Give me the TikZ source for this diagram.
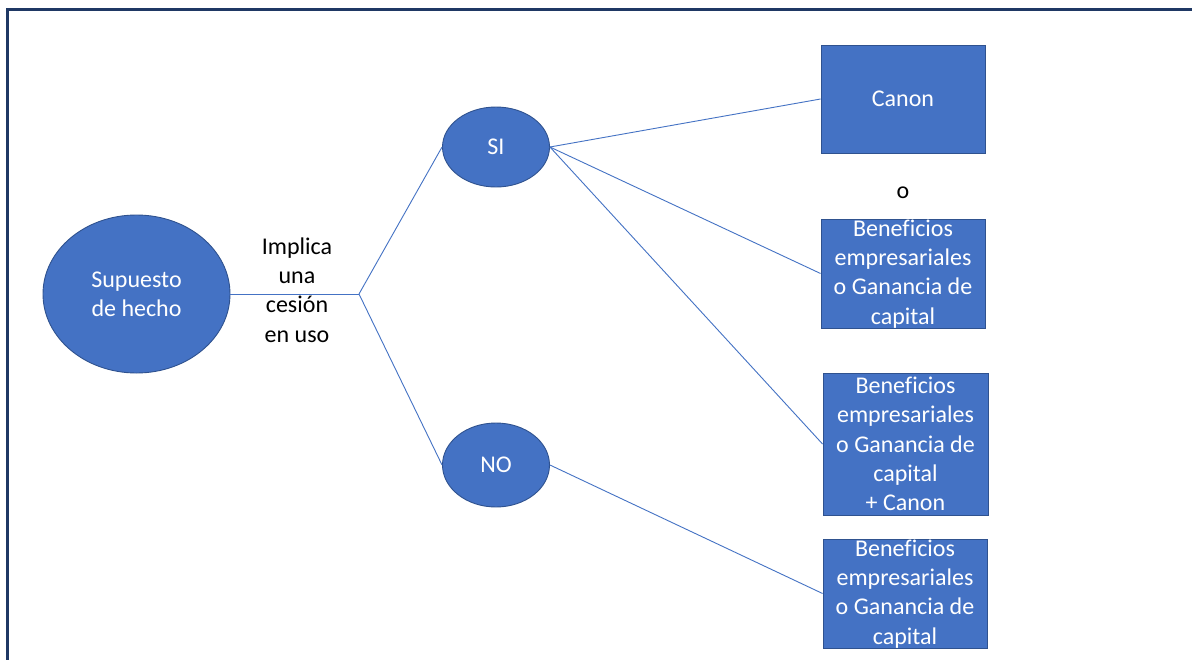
\documentclass[tikz,border=0pt]{standalone}
\usepackage{fontspec}
\setmainfont[Ligatures=NoCommon]{Carlito}
\usetikzlibrary{shapes.geometric}
\definecolor{accent}{HTML}{4472C4}
\definecolor{accentdark}{HTML}{2F528F}
\definecolor{framecol}{HTML}{1F3864}
\newcommand{\lowstack}[1]{\raisebox{-7pt}[0pt][0pt]{\begin{tabular}{@{}c@{}}#1\end{tabular}}}
\tikzset{
  x=1pt, y=-1pt,
  bubble/.style={ellipse, fill=accent, draw=accentdark, line width=0.9pt, inner sep=0pt, text=white, align=center, font=\fontsize{24}{29}\selectfont},
  panel/.style={rectangle, fill=accent, draw=accentdark, line width=0.9pt, inner sep=0pt, text=white, align=center, font=\fontsize{24}{29.3}\selectfont},
  link/.style={draw=accent, line width=0.9pt},
  plain/.style={text=black, align=center, font=\fontsize{24}{29.5}\selectfont}
}
\begin{document}
\begin{tikzpicture}
\useasboundingbox (0,0) rectangle (1192,659);
\fill[white] (0,0) rectangle (1192,659);
\draw[framecol, line width=3pt] (7.5,670) -- (7.5,9.5) -- (1200,9.5);

\node[bubble, minimum width=187pt, minimum height=158pt] (sup) at (136.5,294) {Supuesto\\de hecho};
\node[bubble, minimum width=107pt, minimum height=80pt] (si) at (496,147) {SI};
\node[bubble, minimum width=107pt, minimum height=84pt] (no) at (496,465) {NO};

\node[panel, minimum width=164pt, minimum height=108pt] (canon) at (903,99) {Canon};
\node[panel, minimum width=164pt, minimum height=109pt] (ben1) at (903,273.5) {\lowstack{Beneficios\\empresariales\\o Ganancia de\\capital}};
\node[panel, minimum width=165pt, minimum height=142pt] (ben2) at (905.5,444) {Beneficios\\empresariales\\o Ganancia de\\capital\\+ Canon};
\node[panel, minimum width=164pt, minimum height=109pt] (ben3) at (905,593.5) {\lowstack{Beneficios\\empresariales\\o Ganancia de\\capital}};

\node[plain] (o) at (903,193) {o};
\node[plain] (lab) at (297,290) {Implica\\una\\cesión\\en uso};

\coordinate (j) at (359,294);
\draw[link] (sup.east) -- (j);
\draw[link] (j) -- (si.west);
\draw[link] (j) -- (no.west);
\draw[link] (si.east) -- (canon.west);
\draw[link] (si.east) -- (ben1.west);
\draw[link] (si.east) -- (ben2.west);
\draw[link] (no.east) -- (ben3.west);
\end{tikzpicture}
\end{document}
